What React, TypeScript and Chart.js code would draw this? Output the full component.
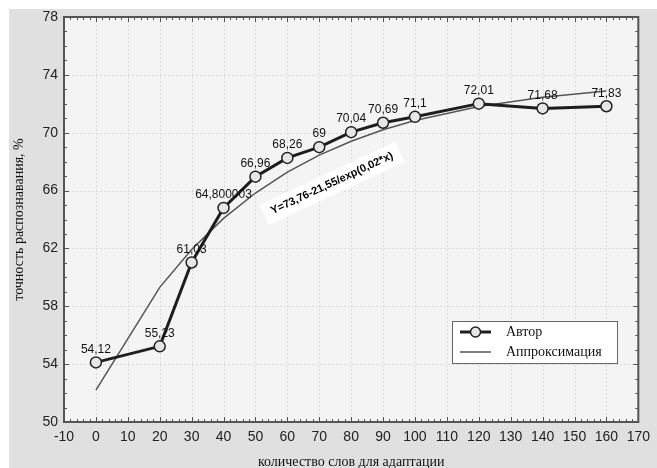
import React, { useEffect, useRef } from 'react';
import { Chart, registerables } from 'chart.js';

Chart.register(...registerables);

const xValues = [0, 20, 30, 40, 50, 60, 70, 80, 90, 100, 120, 140, 160];
const authorValues = [54.12, 55.23, 61.03, 64.800003, 66.96, 68.26, 69, 70.04, 70.69, 71.1, 72.01, 71.68, 71.83];
const authorLabels = ['54,12', '55,23', '61,03', '64,800003', '66,96', '68,26', '69', '70,04', '70,69', '71,1', '72,01', '71,68', '71,83'];
const approxValues = [52.21, 59.31, 61.93, 64.08, 65.83, 67.27, 68.45, 69.41, 70.2, 70.84, 71.81, 72.45, 72.88];
const seriesNames = ['Автор', 'Аппроксимация'];
const xMin = -10;
const xMax = 170;
const xStep = 10;
const yMin = 50;
const yMax = 78;
const yStep = 4;
const xTitle = 'количество слов для адаптации';
const yTitle = 'точность распознавания, %';
const formulaText = 'Y=73,76-21,55/exp(0,02*x)';
const formulaAt = { x: 74, y: 66.5 };
const formulaAngleDeg = -25;

const SANS = "'Liberation Sans', Arial, sans-serif";
const SERIF = "'Liberation Serif', 'Times New Roman', serif";

const decorPlugin = {
  id: 'decor',
  beforeDraw(chart: any) {
    const { ctx, chartArea: a, width, height } = chart;
    ctx.save();
    ctx.fillStyle = '#ffffff';
    ctx.fillRect(0, 0, width, height);
    ctx.fillStyle = '#e0e0e0';
    ctx.fillRect(9, 9, width - 9, height - 9);
    ctx.fillStyle = '#f4f4f4';
    ctx.fillRect(a.left, a.top, a.right - a.left, a.bottom - a.top);
    const xs = chart.scales.x;
    const ys = chart.scales.y;
    ctx.strokeStyle = '#dadada';
    ctx.lineWidth = 1;
    ctx.setLineDash([2, 2]);
    for (let v = xMin + xStep; v < xMax; v += xStep) {
      const px = Math.round(xs.getPixelForValue(v)) + 0.5;
      ctx.beginPath();
      ctx.moveTo(px, a.top);
      ctx.lineTo(px, a.bottom);
      ctx.stroke();
    }
    for (let v = yMin + yStep; v < yMax; v += yStep) {
      const py = Math.round(ys.getPixelForValue(v)) + 0.5;
      ctx.beginPath();
      ctx.moveTo(a.left, py);
      ctx.lineTo(a.right, py);
      ctx.stroke();
    }
    ctx.setLineDash([]);
    ctx.restore();
  },
  afterDatasetsDraw(chart: any) {
    const { ctx, chartArea: a } = chart;
    const xs = chart.scales.x;
    const ys = chart.scales.y;
    ctx.save();
    ctx.strokeStyle = '#555555';
    ctx.lineWidth = 2;
    ctx.strokeRect(a.left, a.top, a.right - a.left, a.bottom - a.top);
    ctx.lineWidth = 1;
    ctx.strokeStyle = '#555555';
    for (let v = xMin + 2; v < xMax; v += 2) {
      const px = Math.round(xs.getPixelForValue(v)) + 0.5;
      const len = v % 10 === 0 ? 5 : 3;
      ctx.beginPath();
      ctx.moveTo(px, a.bottom);
      ctx.lineTo(px, a.bottom - len);
      ctx.moveTo(px, a.top);
      ctx.lineTo(px, a.top + len);
      ctx.stroke();
    }
    for (let v = yMin + 1; v < yMax; v += 1) {
      const py = Math.round(ys.getPixelForValue(v)) + 0.5;
      const len = v % 4 === 2 ? 5 : 3;
      ctx.beginPath();
      ctx.moveTo(a.left, py);
      ctx.lineTo(a.left + len, py);
      ctx.moveTo(a.right, py);
      ctx.lineTo(a.right - len, py);
      ctx.stroke();
    }
    ctx.fillStyle = '#111111';
    ctx.font = `12px ${SANS}`;
    ctx.textAlign = 'center';
    ctx.textBaseline = 'bottom';
    const meta = chart.getDatasetMeta(0);
    meta.data.forEach((pt: any, i: number) => {
      ctx.fillText(authorLabels[i], pt.x, pt.y - 7);
    });
    const fx = xs.getPixelForValue(formulaAt.x);
    const fy = ys.getPixelForValue(formulaAt.y);
    ctx.translate(fx, fy);
    ctx.rotate((formulaAngleDeg * Math.PI) / 180);
    ctx.font = `bold 11px ${SANS}`;
    const tw = ctx.measureText(formulaText).width;
    ctx.fillStyle = '#ffffff';
    ctx.fillRect(-tw / 2 - 8, -11, tw + 16, 22);
    ctx.fillStyle = '#000000';
    ctx.textBaseline = 'middle';
    ctx.fillText(formulaText, 0, 0);
    ctx.setTransform(1, 0, 0, 1, 0, 0);
    const lx = 452;
    const ly = 321;
    const lw = 165;
    const lh = 42;
    ctx.fillStyle = '#ffffff';
    ctx.fillRect(lx, ly, lw, lh);
    ctx.strokeStyle = '#666666';
    ctx.lineWidth = 1;
    ctx.strokeRect(lx + 0.5, ly + 0.5, lw, lh);
    ctx.strokeStyle = '#1e1e1e';
    ctx.lineWidth = 3;
    ctx.beginPath();
    ctx.moveTo(lx + 8, ly + 11);
    ctx.lineTo(lx + 39, ly + 11);
    ctx.stroke();
    ctx.beginPath();
    ctx.arc(lx + 23.5, ly + 11, 5, 0, Math.PI * 2);
    ctx.fillStyle = '#e6e6e6';
    ctx.fill();
    ctx.lineWidth = 1.5;
    ctx.strokeStyle = '#222222';
    ctx.stroke();
    ctx.strokeStyle = '#555555';
    ctx.lineWidth = 1.5;
    ctx.beginPath();
    ctx.moveTo(lx + 8, ly + 31);
    ctx.lineTo(lx + 39, ly + 31);
    ctx.stroke();
    ctx.fillStyle = '#111111';
    ctx.font = `14px ${SERIF}`;
    ctx.textAlign = 'left';
    ctx.textBaseline = 'middle';
    ctx.fillText(seriesNames[0], lx + 54, ly + 11);
    ctx.fillText(seriesNames[1], lx + 54, ly + 31);
    ctx.font = `14px ${SERIF}`;
    ctx.textAlign = 'center';
    ctx.textBaseline = 'middle';
    ctx.fillText(xTitle, (a.left + a.right) / 2, 462);
    ctx.translate(19, (a.top + a.bottom) / 2);
    ctx.rotate(-Math.PI / 2);
    ctx.fillText(yTitle, 0, 0);
    ctx.restore();
  },
};

export default function App() {
  const ref = useRef<HTMLCanvasElement | null>(null);
  useEffect(() => {
    document.body.style.margin = '0';
    const canvas = ref.current!;
    const chart = new Chart(canvas, {
      type: 'line',
      data: {
        datasets: [
          {
            label: seriesNames[0],
            data: xValues.map((x, i) => ({ x, y: authorValues[i] })),
            borderColor: '#1e1e1e',
            borderWidth: 3,
            pointRadius: 5.5,
            pointBackgroundColor: '#e6e6e6',
            pointBorderColor: '#222222',
            pointBorderWidth: 1.5,
            tension: 0,
            fill: false,
          },
          {
            label: seriesNames[1],
            data: xValues.map((x, i) => ({ x, y: approxValues[i] })),
            borderColor: '#555555',
            borderWidth: 1.5,
            pointRadius: 0,
            tension: 0,
            fill: false,
          },
        ],
      },
      options: {
        responsive: false,
        animation: false,
        devicePixelRatio: 1,
        layout: { padding: { left: 0, top: 17, right: 10, bottom: 0 } },
        plugins: { legend: { display: false }, tooltip: { enabled: false } },
        scales: {
          x: {
            type: 'linear',
            min: xMin,
            max: xMax,
            ticks: { stepSize: xStep, color: '#222222', font: { family: SANS, size: 14 }, padding: 7, maxRotation: 0 },
            grid: { display: false, drawTicks: false },
            border: { display: false },
            afterFit: (s: any) => { s.height = 46; },
          },
          y: {
            type: 'linear',
            min: yMin,
            max: yMax,
            ticks: { stepSize: yStep, color: '#222222', font: { family: SANS, size: 14 }, padding: 6 },
            grid: { display: false, drawTicks: false },
            border: { display: false },
            afterFit: (s: any) => { s.width = 64; },
          },
        },
      },
      plugins: [decorPlugin],
    } as any);
    return () => chart.destroy();
  }, []);
  return (
    <div style={{ position: 'fixed', left: 0, top: 0, width: 657, height: 468 }}>
      <canvas ref={ref} width={657} height={468} style={{ display: 'block' }} />
    </div>
  );
}
